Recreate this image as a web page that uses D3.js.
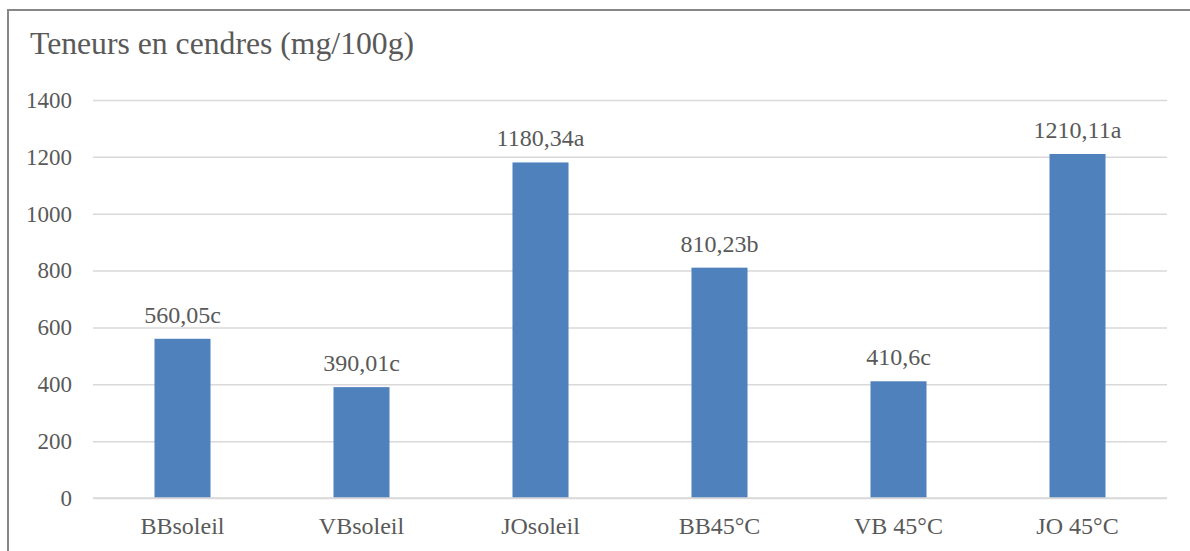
<!DOCTYPE html>
<html>
<head>
<meta charset="utf-8">
<script src="https://cdn.jsdelivr.net/npm/d3@7/dist/d3.min.js"></script>
<style>
  html, body { margin: 0; padding: 0; background: #fff; }
  svg { display: block; }
  text { font-family: "Liberation Serif", "Times New Roman", serif; fill: #595959; }
</style>
</head>
<body>
<script>
const categories = ["BBsoleil", "VBsoleil", "JOsoleil", "BB45°C", "VB 45°C", "JO 45°C"];
const values = [560.05, 390.01, 1180.34, 810.23, 410.6, 1210.11];
const valueLabels = ["560,05c", "390,01c", "1180,34a", "810,23b", "410,6c", "1210,11a"];
const yTicks = [0, 200, 400, 600, 800, 1000, 1200, 1400];
const title = "Teneurs en cendres (mg/100g)";

const W = 1190, H = 551;
const svg = d3.select("body").append("svg").attr("width", W).attr("height", H);

// outer border
svg.append("rect").attr("x", 8).attr("y", 10).attr("width", W + 10).attr("height", H + 10)
  .attr("fill", "none").attr("stroke", "#878787").attr("stroke-width", 2);

svg.append("text").attr("x", 30).attr("y", 54).attr("font-size", 31.7).text(title);

const x = d3.scaleBand().domain(categories).range([93, 1167]).paddingInner(0.687).paddingOuter(0.3435);
const y = d3.scaleLinear().domain([0, 1400]).range([498, 100]);

// gridlines
const yAxis = d3.axisLeft(y).tickValues(yTicks).tickSize(-(1167 - 93)).tickFormat(d3.format("d"));
const gy = svg.append("g").attr("transform", "translate(93,0)").call(yAxis);
gy.select(".domain").remove();
gy.selectAll(".tick line").attr("stroke", "#d9d9d9").attr("stroke-width", 1.5);
gy.selectAll(".tick text").attr("x", -21).attr("font-size", 23).attr("fill", "#595959")
  .attr("font-family", "Liberation Serif, serif");

// bars
svg.append("g").selectAll("rect").data(values).join("rect")
  .attr("x", (d, i) => x(categories[i]))
  .attr("y", d => y(d))
  .attr("width", x.bandwidth())
  .attr("height", d => y(0) - y(d))
  .attr("fill", "#4F81BD");

// redraw zero line on top
svg.append("line").attr("x1", 93).attr("x2", 1167).attr("y1", y(0)).attr("y2", y(0))
  .attr("stroke", "#d9d9d9").attr("stroke-width", 1.5);

// value labels
svg.append("g").selectAll("text").data(values).join("text")
  .attr("x", (d, i) => x(categories[i]) + x.bandwidth() / 2)
  .attr("y", d => y(d) - 16)
  .attr("text-anchor", "middle").attr("font-size", 24)
  .text((d, i) => valueLabels[i]);

// x axis labels
const xAxis = d3.axisBottom(x).tickSize(0).tickPadding(0);
const gx = svg.append("g").attr("transform", "translate(0,498)").call(xAxis);
gx.select(".domain").remove();
gx.selectAll(".tick text").attr("dy", null).attr("y", 36).attr("font-size", 24).attr("fill", "#595959")
  .attr("font-family", "Liberation Serif, serif");
</script>
</body>
</html>
